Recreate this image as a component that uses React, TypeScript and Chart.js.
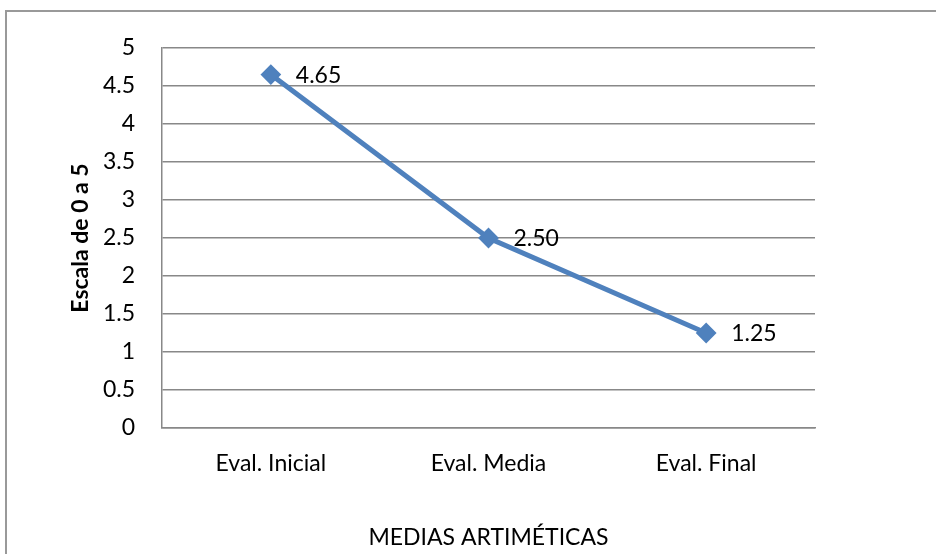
import React, { useEffect, useRef } from "react";
import { Chart, registerables } from "chart.js";

Chart.register(...registerables);

const categories = ["Eval. Inicial", "Eval. Media", "Eval. Final"];
const values = [4.65, 2.5, 1.25];
const yTicks = [0, 0.5, 1, 1.5, 2, 2.5, 3, 3.5, 4, 4.5, 5];
const yTitle = "Escala de 0 a 5";
const xTitle = "MEDIAS ARTIMÉTICAS";

const FONT = "Lato, 'Open Sans', sans-serif";
const FS = 23;
const BLUE = "#4F81BD";

const dataLabels = {
  id: "dataLabels",
  afterDatasetsDraw(chart: any) {
    const ctx = chart.ctx;
    const meta = chart.getDatasetMeta(0);
    ctx.save();
    ctx.font = `${FS}px ${FONT}`;
    ctx.fillStyle = "#000";
    ctx.textAlign = "left";
    ctx.textBaseline = "middle";
    meta.data.forEach((pt: any, i: number) => {
      ctx.fillText(values[i].toFixed(2), pt.x + 25, pt.y + 1);
    });
    ctx.restore();
  },
};

export default function App() {
  const ref = useRef<HTMLCanvasElement | null>(null);
  useEffect(() => {
    if (!ref.current) return;
    const chart = new Chart(ref.current, {
      type: "line",
      data: {
        labels: categories,
        datasets: [
          {
            data: values,
            borderColor: BLUE,
            backgroundColor: BLUE,
            borderWidth: 5,
            pointStyle: "rectRot",
            pointRadius: 9,
            pointBorderWidth: 2,
            pointBorderColor: BLUE,
            pointBackgroundColor: BLUE,
            tension: 0,
          },
        ],
      },
      options: {
        responsive: false,
        animation: false,
        layout: { padding: { left: 0, right: 121, top: 48, bottom: 0 } },
        plugins: {
          legend: { display: false },
          tooltip: { enabled: false },
        },
        scales: {
          x: {
            offset: true,
            grid: { display: false, drawTicks: false },
            border: { display: true, color: "#888", width: 1.5 },
            ticks: {
              color: "#000",
              font: { family: FONT, size: FS },
              padding: 22,
              maxRotation: 0,
            },
            title: {
              display: true,
              text: xTitle,
              color: "#000",
              font: { family: FONT, size: FS },
              padding: { top: 0, bottom: 3 },
            },
            afterFit: (s: any) => {
              s.height = 126;
            },
          },
          y: {
            min: 0,
            max: 5,
            afterBuildTicks: (s: any) => {
              s.ticks = yTicks.map((v) => ({ value: v }));
            },
            grid: { color: "#888", lineWidth: 1.5, drawTicks: false },
            border: { display: true, color: "#888", width: 1.5 },
            ticks: {
              color: "#000",
              font: { family: FONT, size: FS },
              padding: 27,
              callback: (v: any) => String(v),
            },
            title: {
              display: true,
              text: yTitle,
              color: "#000",
              font: { family: FONT, size: FS, weight: "bold" },
              padding: { top: 67, bottom: 0 },
            },
            afterFit: (s: any) => {
              s.width = 162;
            },
          },
        },
      },
      plugins: [dataLabels],
    });
    return () => chart.destroy();
  }, []);

  return (
    <div
      style={{
        position: "absolute",
        left: 0,
        top: 0,
        width: 936,
        height: 554,
        overflow: "hidden",
        background: "#fff",
      }}
    >
      <div
        style={{
          position: "absolute",
          left: 5,
          top: 10,
          width: 1200,
          height: 1200,
          border: "2px solid #999",
          boxSizing: "border-box",
        }}
      />
      <canvas
        ref={ref}
        width={936}
        height={554}
        style={{ position: "absolute", left: 0, top: 0 }}
      />
    </div>
  );
}
